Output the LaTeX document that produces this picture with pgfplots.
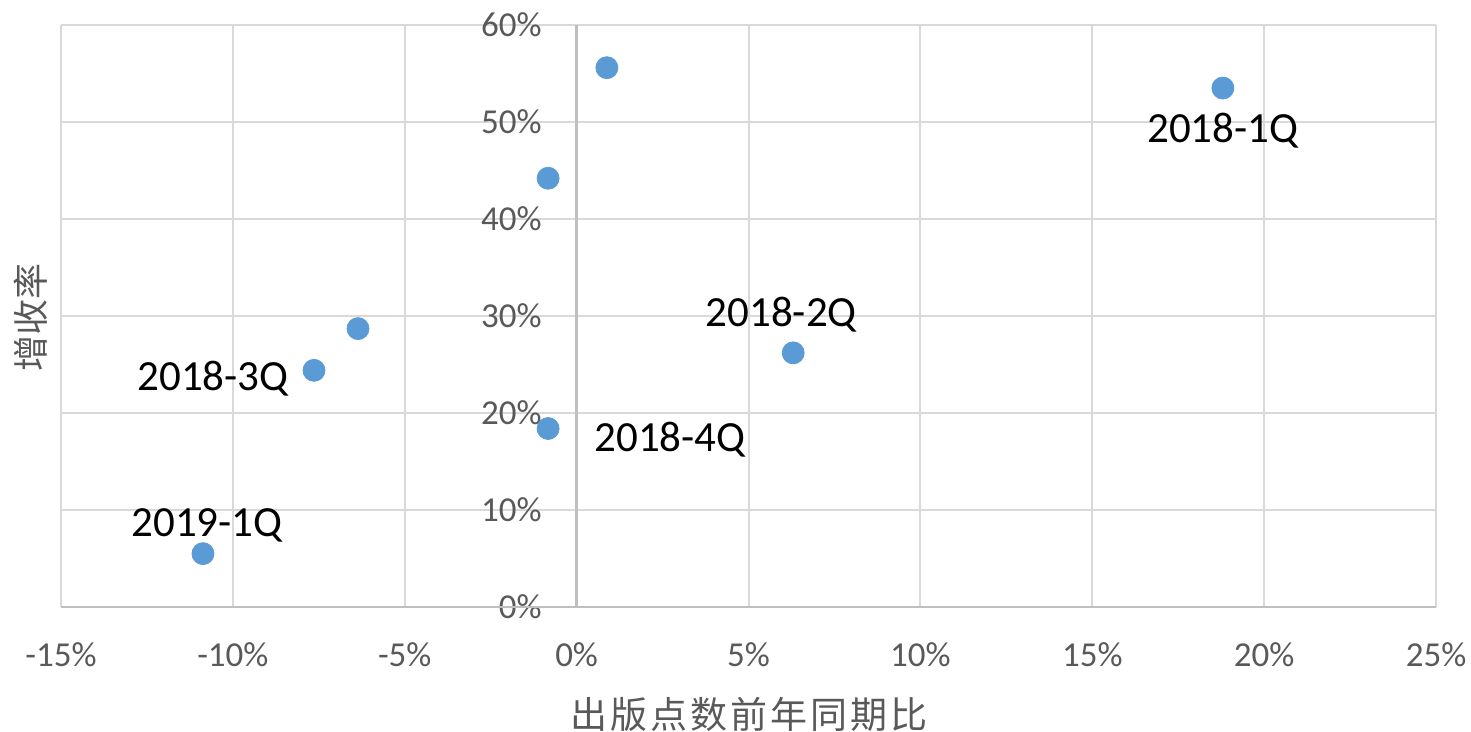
\documentclass[border=0pt]{standalone}
\usepackage{pgfplots}
\pgfplotsset{compat=1.18}
\usepackage{fontspec}
\setmainfont{Carlito}
\newfontfamily\cjk{Noto Sans CJK SC}
\newfontfamily\cjkwide[LetterSpace=8]{Noto Sans CJK SC}
\definecolor{gridc}{HTML}{D9D9D9}
\definecolor{axc}{HTML}{BFBFBF}
\definecolor{txt}{HTML}{595959}
\definecolor{mk}{HTML}{5B9BD5}
\begin{document}
\begin{tikzpicture}
\begin{axis}[
  at={(0,0)}, anchor=south west,
  scale only axis, width=687.5pt, height=291pt,
  xmin=-15, xmax=25, ymin=0, ymax=60,
  xtick={-15,-10,-5,0,5,10,15,20,25},
  xticklabels={-15\%,-10\%,-5\%,0\%,5\%,10\%,15\%,20\%,25\%},
  ytick={0,10,20,30,40,50,60},
  yticklabels={0\%,10\%,20\%,30\%,40\%,50\%,60\%},
  grid=major,
  grid style={color=gridc, line width=1pt},
  axis line style={draw=none},
  major tick length=0pt,
  tick label style={font=\fontsize{17.5}{21}\selectfont, text=txt},
  xticklabel style={anchor=center, yshift=-24pt, inner sep=0pt},
  yticklabel style={anchor=east, xshift=240.5pt, inner sep=0pt},
  clip=false,
]
\draw[axc, line width=1.2pt] (axis cs:0,0) -- (axis cs:0,60);
\draw[axc, line width=1.2pt] (axis cs:-15,0) -- (axis cs:25,0);
\addplot[only marks, mark=*, mark size=5.5pt, mark options={fill=mk, draw=mk}] coordinates {
  (0.88,55.6) (-0.83,44.2) (-6.36,28.7) (-7.64,24.4) (-10.87,5.5) (-0.83,18.4) (6.3,26.2) (18.8,53.5)
};
\node[font=\fontsize{21.5}{25}\selectfont, inner sep=0pt, anchor=center, yshift=-21.5pt] at (axis cs:18.8,53.5) {2018-1Q};
\node[font=\fontsize{21.5}{25}\selectfont, inner sep=0pt, anchor=center, xshift=-6pt, yshift=19pt] at (axis cs:6.3,26.2) {2018-2Q};
\node[font=\fontsize{21.5}{25}\selectfont, inner sep=0pt, anchor=center, xshift=-50.5pt, yshift=-4pt] at (axis cs:-7.64,24.4) {2018-3Q};
\node[font=\fontsize{21.5}{25}\selectfont, inner sep=0pt, anchor=center, xshift=61pt, yshift=-5.5pt] at (axis cs:-0.83,18.4) {2018-4Q};
\node[font=\fontsize{21.5}{25}\selectfont, inner sep=0pt, anchor=center, xshift=2pt, yshift=14pt] at (axis cs:-10.87,5.5) {2019-1Q};
\end{axis}
\node[font=\cjkwide\fontsize{18.5}{22}\selectfont, text=txt, anchor=center] at (344pt,-53.5pt) {出版点数前年同期比};
\node[font=\cjk\fontsize{18}{22}\selectfont, text=txt, anchor=center, rotate=90] at (-15pt,144.5pt) {增收率};
\pgfresetboundingbox
\path (-30.5pt,-62.5pt) rectangle (705pt,303.5pt);
\end{tikzpicture}
\end{document}
